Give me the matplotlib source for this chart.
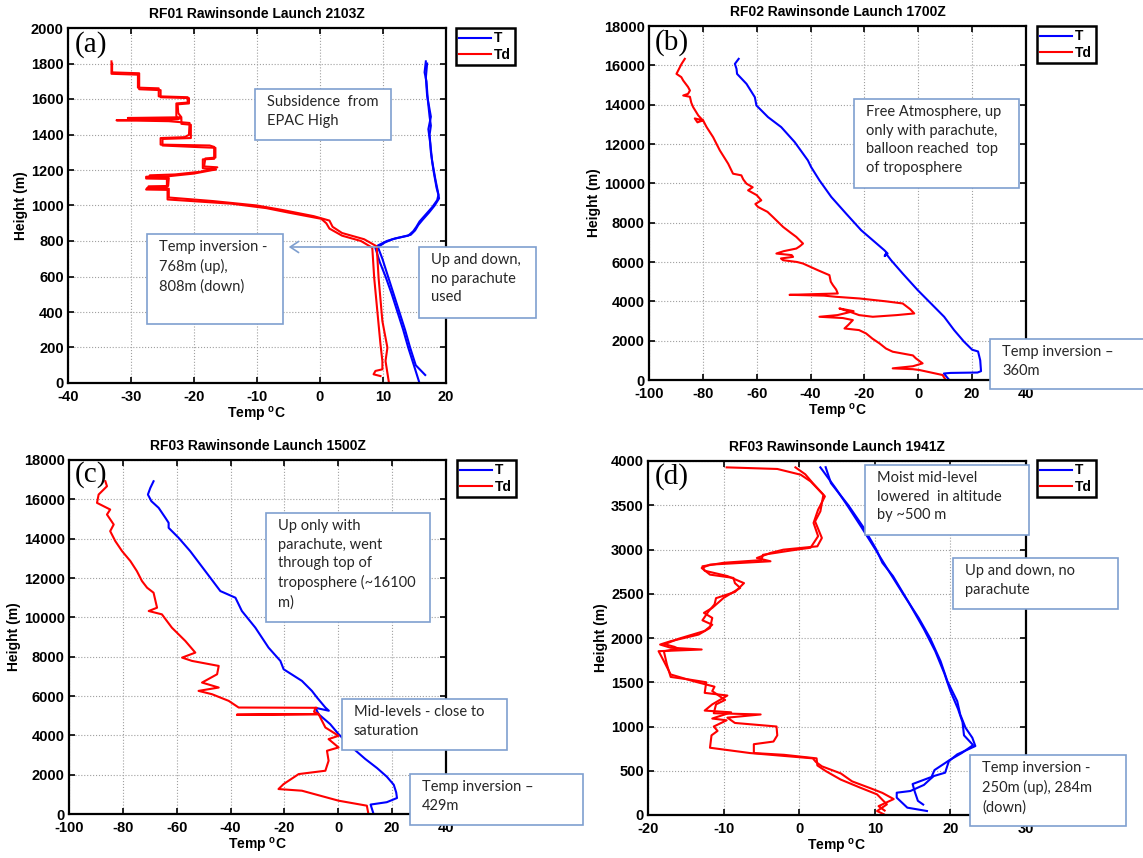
import numpy as np
import matplotlib
matplotlib.use("Agg")
import matplotlib.pyplot as plt
from matplotlib.patches import Rectangle, FancyArrowPatch

plt.rcParams['font.family'] = ['Liberation Sans', 'DejaVu Sans']
plt.rcParams['font.weight'] = 'bold'
plt.rcParams['axes.titleweight'] = 'bold'
plt.rcParams['axes.labelweight'] = 'bold'
plt.rcParams['axes.unicode_minus'] = False
plt.rcParams['mathtext.fontset'] = 'custom'
plt.rcParams['mathtext.rm'] = 'Liberation Sans:bold'
plt.rcParams['mathtext.bf'] = 'Liberation Sans:bold'

# ---- data: (height m, temperature degC) ----
# RF01 2103Z, up and down legs
a_td_up = [(1812, -33.1), (1742, -33.1), (1737, -28.9), (1664, -28.9), (1660, -25.6), (1615, -25.6),
           (1610, -21.0), (1580, -21.0), (1575, -22.8), (1503, -22.8), (1486, -22.5), (1480, -32.3),
           (1475, -24.0), (1465, -20.7), (1398, -20.8), (1385, -21.5), (1380, -25.3), (1343, -25.3),
           (1338, -17.5), (1330, -16.8), (1263, -16.8), (1260, -18.6), (1210, -18.6), (1204, -16.5),
           (1200, -17.0), (1180, -20.0), (1165, -24.0), (1162, -27.6), (1152, -27.6), (1150, -24.3),
           (1103, -24.3), (1100, -27.4), (1090, -27.6), (1088, -24.2), (1034, -24.2), (1010, -14.0),
           (985, -8.5), (960, -5.0), (925, 0.2), (900, 1.0), (870, 1.5), (830, 3.5), (800, 6.5),
           (762, 8.3), (593, 8.6), (405, 9.1), (218, 9.6), (124, 9.9), (77, 9.9), (68, 8.8),
           (49, 8.5), (39, 9.6)]
a_td_dn = [(1800, -33.0), (1750, -33.0), (1745, -28.7), (1655, -28.7), (1650, -25.3), (1610, -25.3),
           (1605, -20.8), (1575, -20.8), (1570, -22.6), (1520, -22.5), (1497, -22.0), (1493, -30.5),
           (1490, -22.0), (1460, -22.0), (1455, -20.5), (1380, -20.5), (1375, -25.0), (1338, -25.0),
           (1330, -20.0), (1325, -16.6), (1270, -16.6), (1265, -18.2), (1220, -18.4), (1215, -16.3),
           (1190, -19.0), (1175, -23.0), (1170, -27.0), (1158, -27.2), (1155, -24.0), (1110, -24.1),
           (1108, -27.2), (1097, -27.3), (1095, -24.0), (1045, -24.0), (1025, -17.0), (1000, -10.0),
           (975, -6.0), (940, -1.0), (915, 1.5), (880, 2.0), (845, 3.5), (810, 7.0), (770, 9.0),
           (593, 9.3), (349, 9.9), (199, 10.7), (124, 10.4), (11, 10.9)]
a_t_up = [(10, 15.7), (100, 14.9), (200, 14.0), (300, 13.2), (400, 12.3), (500, 11.4), (600, 10.4),
          (680, 9.5), (760, 8.8), (775, 9.2), (800, 10.6), (815, 12.0), (830, 14.0), (855, 14.8),
          (880, 15.3), (910, 15.8), (950, 16.8), (990, 17.8), (1030, 18.6), (1060, 18.8), (1100, 18.5),
          (1200, 18.0), (1300, 17.6), (1400, 17.4), (1450, 17.6), (1500, 17.4), (1600, 17.1),
          (1700, 16.9), (1750, 16.6), (1812, 16.8)]
a_t_dn = [(45, 16.7), (100, 15.2), (200, 14.3), (300, 13.5), (400, 12.6), (500, 11.7), (600, 10.8),
          (700, 9.9), (765, 9.2), (790, 10.2), (810, 11.5), (835, 14.4), (860, 15.1), (890, 15.6),
          (920, 16.3), (960, 17.3), (1000, 18.2), (1040, 18.9), (1080, 18.7), (1150, 18.3),
          (1250, 17.8), (1350, 17.5), (1430, 17.2), (1500, 17.6), (1620, 17.0), (1720, 16.8), (1800, 17.0)]

# RF02 1700Z
b_td = [(16330, -86.7), (16075, -87.9), (15566, -89.8), (15400, -88.0), (15228, -87.3), (14900, -85.5),
        (14720, -84.8), (14550, -85.5), (14466, -87.3), (14400, -84.8), (14100, -84.3), (13874, -83.6),
        (13451, -81.7), (13200, -80.0), (13100, -82.0), (13300, -83.0), (13198, -79.9), (12859, -78.6),
        (12351, -76.2), (11675, -73.7), (10998, -70.6), (10490, -68.8), (10406, -65.7), (10200, -65.0),
        (9983, -63.8), (9800, -61.5), (9644, -63.2), (9400, -60.0), (9137, -58.3), (8950, -60.5),
        (8798, -59.5), (8550, -56.0), (8291, -54.0), (7783, -50.2), (7500, -47.5), (7276, -45.3),
        (6938, -42.8), (6800, -44.0), (6684, -45.3), (6550, -50.0), (6430, -52.7), (6350, -47.0),
        (6260, -46.5), (6180, -51.0), (6091, -50.2), (6000, -45.0), (5922, -42.8), (5583, -37.3),
        (5330, -33.0), (5000, -32.5), (4822, -31.7), (4600, -30.5), (4399, -29.9), (4330, -47.8),
        (4290, -35.0), (4230, -30.5), (4145, -21.8), (4000, -12.0), (3892, -5.8), (3600, -3.0),
        (3384, -1.5), (3300, -8.0), (3215, -16.9), (3300, -22.0), (3450, -25.0), (3638, -29.3),
        (3500, -24.0), (3300, -30.0), (3215, -36.7), (3150, -28.0), (3046, -24.3), (2800, -26.0),
        (2620, -27.4), (2538, -22.0), (2369, -19.4), (2100, -17.0), (1861, -14.4), (1600, -12.0),
        (1438, -9.5), (1250, -2.0), (1100, -0.9), (846, 1.6), (700, -2.0), (592, -9.5), (550, -2.0),
        (508, 0.4), (254, 9.0), (0, 10.2)]
b_t = [(16330, -66.7), (16075, -68.1), (15820, -67.5), (15566, -67.3), (15059, -63.8), (14382, -60.7),
       (13959, -60.1), (13367, -55.8), (12859, -50.9), (12098, -45.9), (11167, -41.0), (10829, -39.8),
       (10152, -36.7), (9306, -32.3), (8460, -26.8), (7614, -21.2), (7106, -16.9), (6599, -12.6),
       (6430, -11.4), (6300, -12.5), (6430, -12.0), (6091, -10.1), (5414, -5.8), (4568, -0.2),
       (3892, 4.7), (3215, 9.6), (2538, 13.3), (1946, 17.0), (1540, 20.0), (1450, 22.2),
       (1000, 23.0), (450, 23.3), (380, 22.0), (360, 12.0), (330, 9.5), (200, 10.3), (0, 11.5)]

# RF03 1500Z
c_td = [(16920, -86.5), (16666, -85.9), (16243, -89.0), (15820, -89.6), (15482, -84.7), (15228, -85.9),
        (14720, -83.4), (14382, -84.7), (13874, -82.8), (13367, -80.3), (12859, -77.2), (12352, -74.8),
        (11844, -72.9), (11506, -71.0), (11252, -68.6), (10490, -67.3), (10321, -70.4), (10152, -65.5),
        (9475, -61.8), (8798, -56.8), (8206, -53.1), (7952, -58.0), (7783, -54.3), (7529, -44.4),
        (7106, -45.0), (6683, -50.6), (6430, -44.4), (6260, -51.9), (6091, -46.9), (5753, -40.7),
        (5414, -37.0), (5400, -8.0), (5380, -8.5), (5200, -9.0), (5076, -7.3), (5050, -37.6),
        (5076, -7.3), (4399, -4.8), (3976, 0.1), (3807, -3.6), (3384, 0.1), (3215, -4.2), (2707, -3.6),
        (2200, -4.8), (2030, -14.7), (1523, -20.3), (1269, -22.2), (1184, -13.5), (677, 0.1),
        (423, 10.6), (0, 11.2)]
c_t = [(16920, -68.6), (16580, -69.8), (16243, -70.7), (15905, -69.4), (15566, -66.7), (15059, -64.2),
       (14805, -63.0), (14551, -63.0), (14044, -59.3), (13367, -55.0), (12352, -49.4), (11336, -43.8),
       (10998, -38.2), (10321, -35.8), (9475, -30.8), (8460, -25.9), (7783, -21.5), (7360, -20.3),
       (6768, -13.5), (6260, -9.8), (5922, -7.9), (5414, -4.8), (5250, -3.5), (5400, -8.5),
       (5076, -7.3), (4568, -3.0), (4061, 0.1), (3384, 5.1), (2800, 10.0), (2335, 14.4),
       (1900, 18.0), (1487, 20.6), (1100, 21.5), (812, 21.8), (600, 18.0), (480, 12.0), (0, 13.1)]

# RF03 1941Z, up and down legs
d_td_up = [(8, 11.2), (45, 10.3), (120, 11.6), (233, 10.3), (308, 8.1), (400, 5.5), (497, 3.5),
           (560, 2.4), (640, 2.3), (680, -2.0), (700, -6.0), (800, -6.0), (830, -3.4), (900, -2.9),
           (1000, -3.0), (1040, -8.5), (1100, -9.5), (1136, -5.1), (1150, -11.3), (1250, -11.0),
           (1300, -9.8), (1400, -11.5), (1450, -11.2), (1512, -14.0), (1588, -17.0), (1738, -17.9),
           (1851, -18.6), (1870, -12.9), (1890, -17.0), (1926, -18.4), (1964, -17.0), (2039, -13.3),
           (2114, -11.8), (2227, -11.5), (2284, -12.6), (2340, -11.5), (2453, -10.0), (2566, -7.8),
           (2620, -8.5), (2679, -8.7), (2716, -11.8), (2791, -12.9), (2829, -11.8), (2867, -3.8),
           (2904, -5.6), (2961, -3.8), (2998, -2.1), (3036, 2.4), (3130, 3.0), (3318, 2.1),
           (3431, 2.8), (3619, 3.2), (3770, 1.5), (3845, 0.2), (3910, -2.9), (3928, -9.6)]
d_td_dn = [(50, 11.3), (100, 10.5), (180, 12.5), (250, 11.0), (300, 9.5), (380, 7.0), (470, 5.5),
           (550, 3.0), (600, 2.2), (640, 1.8), (700, -6.5), (760, -11.8), (900, -11.6), (950, -10.8),
           (1000, -11.3), (1070, -9.6), (1090, -11.5), (1160, -9.0), (1180, -12.5), (1250, -11.5),
           (1350, -9.5), (1380, -12.5), (1500, -12.3), (1530, -14.5), (1560, -17.0), (1700, -17.5),
           (1850, -17.9), (1880, -16.0), (1900, -16.5), (1930, -17.8), (1990, -16.0), (2080, -12.5),
           (2150, -11.5), (2200, -12.8), (2300, -12.0), (2380, -11.2), (2450, -11.0), (2520, -8.5),
           (2620, -7.3), (2700, -9.5), (2760, -12.5), (2810, -12.8), (2850, -10.0), (2880, -5.0),
           (2940, -4.8), (2990, -1.0), (3020, 1.5), (3150, 2.5), (3300, 1.9), (3450, 2.5),
           (3600, 3.4), (3750, 1.8), (3850, 0.8), (3928, -0.5)]
d_t_up = [(45, 16.9), (83, 14.3), (196, 12.9), (252, 12.9), (271, 14.7), (340, 16.5), (403, 17.3),
          (440, 17.8), (478, 19.3), (609, 19.8), (685, 20.9), (779, 23.3), (873, 22.9), (986, 22.0),
          (1136, 21.3), (1287, 20.9), (1512, 19.6), (1738, 18.7), (2001, 17.3), (2227, 15.8),
          (2491, 13.8), (2791, 11.6), (2998, 10.1), (3243, 8.3), (3506, 6.3), (3694, 4.8),
          (3882, 3.2), (3928, 2.8)]
d_t_dn = [(118, 16.4), (160, 15.7), (260, 15.3), (350, 15.0), (430, 17.5), (508, 17.9), (621, 19.9),
          (700, 21.5), (790, 23.0), (900, 21.8), (1050, 21.6), (1200, 21.0), (1400, 20.0),
          (1600, 19.2), (1850, 18.0), (2100, 16.5), (2400, 14.5), (2700, 12.4), (2850, 11.0),
          (3000, 10.2), (3250, 8.5), (3500, 6.5), (3750, 4.2), (3930, 3.5)]

titles = ["RF01 Rawinsonde Launch 2103Z", "RF02 Rawinsonde Launch 1700Z",
          "RF03 Rawinsonde Launch 1500Z", "RF03 Rawinsonde Launch 1941Z"]
panel_tags = ["(a)", "(b)", "(c)", "(d)"]

W, H = 1143, 858
fig = plt.figure(figsize=(W / 100, H / 100), dpi=100)
fig.patch.set_facecolor("white")


def px_axes(x0, y0, x1, y1):
    return fig.add_axes([x0 / W, 1 - y1 / H, (x1 - x0) / W, (y1 - y0) / H])


panels = [
    dict(rect=(68, 28, 446, 383), xlim=(-40, 20), xstep=10, ylim=(0, 2000), ystep=200,
         td=[a_td_up, a_td_dn], t=[a_t_up, a_t_dn], leg=(456, 28), tag=(75, 31)),
    dict(rect=(649, 26, 1026, 380), xlim=(-100, 40), xstep=20, ylim=(0, 18000), ystep=2000,
         td=[b_td], t=[b_t], leg=(1037, 26), tag=(655, 29)),
    dict(rect=(69, 460, 446, 814), xlim=(-100, 40), xstep=20, ylim=(0, 18000), ystep=2000,
         td=[c_td], t=[c_t], leg=(457, 460), tag=(75, 461)),
    dict(rect=(648, 461, 1026, 815), xlim=(-20, 30), xstep=10, ylim=(0, 4000), ystep=500,
         td=[d_td_up, d_td_dn], t=[d_t_up, d_t_dn], leg=(1037, 460), tag=(655, 463)),
]

for i, p in enumerate(panels):
    ax = px_axes(*p["rect"])
    for k, tr in enumerate(p["t"]):
        arr = np.array(tr)
        ax.plot(arr[:, 1], arr[:, 0], color="#0000ff", lw=1.5, label="T" if k == 0 else "_nolegend_")
    for k, tr in enumerate(p["td"]):
        arr = np.array(tr)
        ax.plot(arr[:, 1], arr[:, 0], color="#ff0000", lw=1.5, label="Td" if k == 0 else "_nolegend_")
    ax.set_xlim(*p["xlim"])
    ax.set_ylim(*p["ylim"])
    ax.set_xticks(np.arange(p["xlim"][0], p["xlim"][1] + 1, p["xstep"]))
    ax.set_yticks(np.arange(p["ylim"][0], p["ylim"][1] + 1, p["ystep"]))
    ax.grid(True, ls=":", color="#a0a0a0", lw=0.8)
    ax.tick_params(direction="in", top=True, right=True, length=4, width=1.2, labelsize=10.5)
    ax.tick_params(axis="x", pad=5)
    ax.tick_params(axis="y", pad=3)
    for lab in ax.get_xticklabels() + ax.get_yticklabels():
        lab.set_fontweight("bold")
    for s in ax.spines.values():
        s.set_linewidth(1.6)
    ax.set_title(titles[i], fontsize=10, pad=7)
    ax.set_ylabel("Height (m)", fontsize=10, labelpad=2)
    ax.set_xlabel(r"Temp $^\mathbf{o}$C", fontsize=10, labelpad=1)
    lx, ly = p["leg"]
    leg = ax.legend(loc="upper left", bbox_to_anchor=(lx / W, 1 - ly / H), bbox_transform=fig.transFigure,
                    fancybox=False, edgecolor="black", framealpha=1, borderpad=0.25, handlelength=2.3,
                    handletextpad=0.2, labelspacing=0.15, borderaxespad=0,
                    prop={"weight": "bold", "size": 10})
    leg.get_frame().set_linewidth(1.8)
    tx, ty = p["tag"]
    fig.text(tx / W, 1 - ty / H, panel_tags[i], family="Liberation Serif", fontweight="normal",
             fontsize=21, va="top", ha="left")

# annotation boxes: (x0, y0, x1, y1) in pixels, text
notes = [
    ((255, 89, 391, 140), "Subsidence  from\nEPAC High"),
    ((147, 234, 283, 324), "Temp inversion -\n768m (up),\n808m (down)"),
    ((419, 247, 536, 318), "Up and down,\nno parachute\nused"),
    ((854, 99, 1019, 188), "Free Atmosphere, up\nonly with parachute,\nballoon reached  top\nof troposphere"),
    ((990, 339, 1145, 389), "Temp inversion \u2013\n360m"),
    ((266, 513, 430, 622), "Up only with\nparachute, went\nthrough top of\ntroposphere (~16100\nm)"),
    ((342, 699, 507, 750), "Mid-levels - close to\nsaturation"),
    ((410, 774, 583, 825), "Temp inversion \u2013\n429m"),
    ((865, 465, 1029, 535), "Moist mid-level\nlowered  in altitude\nby ~500 m"),
    ((953, 558, 1118, 609), "Up and down, no\nparachute"),
    ((970, 755, 1126, 826), "Temp inversion -\n250m (up), 284m\n(down)"),
]
box_edge = "#7f9fcf"
for (x0, y0, x1, y1), txt in notes:
    fig.patches.append(Rectangle((x0 / W, 1 - y1 / H), (x1 - x0) / W, (y1 - y0) / H,
                                 transform=fig.transFigure, facecolor="white", edgecolor=box_edge,
                                 lw=1.2, zorder=10))
    fig.text((x0 + 12) / W, 1 - (y0 + 6) / H, txt, family="Lato", fontweight="normal", fontsize=10.5,
             color="#262626", va="top", ha="left", linespacing=1.42, zorder=11)

# arrow in panel (a) pointing at the inversion box
fig.add_artist(FancyArrowPatch((401 / W, 1 - 247 / H), (286 / W, 1 - 247 / H),
                               transform=fig.transFigure, arrowstyle="->,head_length=6,head_width=4",
                               color=box_edge, lw=1.2, zorder=9))

fig.savefig("out.png", dpi=100)
